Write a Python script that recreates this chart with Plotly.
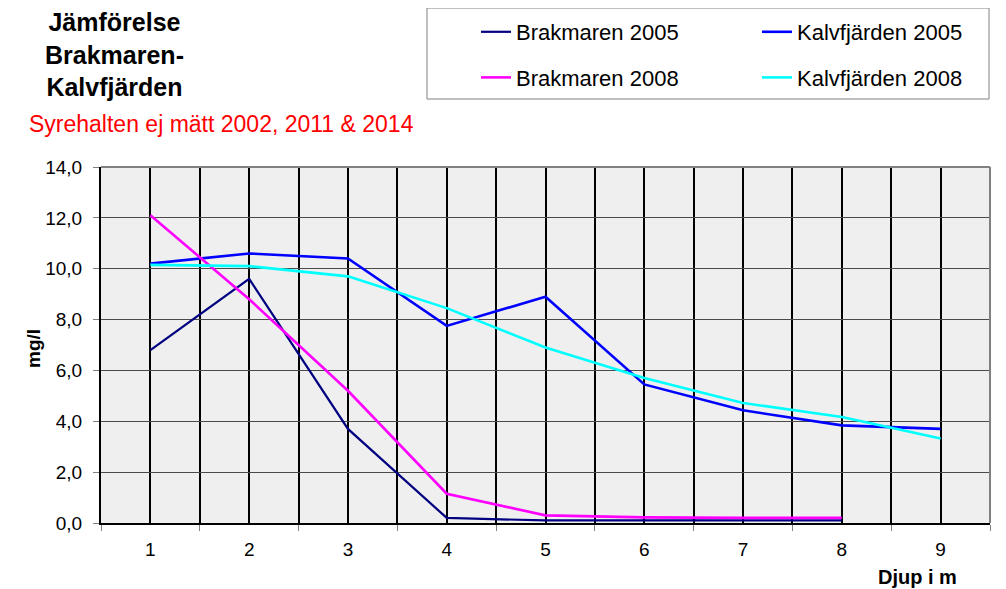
import plotly.graph_objects as go

# ---- data ----
depth = [1, 2, 3, 4, 5, 6, 7, 8, 9]
brakmaren_2005 = [6.8, 9.6, 3.7, 0.2, 0.1, 0.1, 0.1, 0.1]
kalvfjarden_2005 = [10.2, 10.6, 10.4, 7.75, 8.9, 5.45, 4.43, 3.84, 3.7]
brakmaren_2008 = [12.1, 8.8, 5.2, 1.15, 0.3, 0.22, 0.2, 0.2]
kalvfjarden_2008 = [10.15, 10.1, 9.7, 8.45, 6.9, 5.7, 4.72, 4.17, 3.32]
y_ticks = [0, 2, 4, 6, 8, 10, 12, 14]

FONT = "Liberation Sans, Arial, sans-serif"

fig = go.Figure()
series = [
    ("Brakmaren 2005", brakmaren_2005, "#000080", 2.2, "legend"),
    ("Kalvfjärden 2005", kalvfjarden_2005, "#0000FF", 2.6, "legend2"),
    ("Brakmaren 2008", brakmaren_2008, "#FF00FF", 2.6, "legend"),
    ("Kalvfjärden 2008", kalvfjarden_2008, "#00FFFF", 2.6, "legend2"),
]
for name, vals, color, w, lg in series:
    fig.add_trace(go.Scatter(
        x=depth[:len(vals)], y=vals, name=name, mode="lines",
        line=dict(color=color, width=w), legend=lg, legendgroup=name,
    ))

# page body has an 8px margin: figure is placed at (8, 8) in the window
OFF = 8
WIN_W, WIN_H = 1006, 589
W, H = WIN_W - OFF, WIN_H - OFF
PL, PT, PR, PB = 101, 167, 990, 523   # plot area in window pixels
L, T = PL - OFF, PT - OFF
R, B = WIN_W - PR, WIN_H - PB
pw, ph = PR - PL, PB - PT

def px(xp):
    return (xp - PL) / pw

def py(yp):
    return (PB - yp) / ph

legend_common = dict(
    orientation="v", bgcolor="rgba(0,0,0,0)", borderwidth=0,
    font=dict(family=FONT, size=22, color="#000000"),
    tracegroupgap=14, itemwidth=30, xanchor="left", yanchor="top",
    traceorder="grouped",
)

fig.update_layout(
    width=W, height=H,
    margin=dict(l=L, r=R, t=T, b=B, pad=0, autoexpand=False),
    paper_bgcolor="#FFFFFF",
    plot_bgcolor="#EFEFEF",
    separators=", ",
    font=dict(family=FONT, size=19, color="#000000"),
    showlegend=True,
    legend=dict(x=px(476), y=py(11), **legend_common),
    legend2=dict(x=px(757), y=py(11), **legend_common),
    xaxis=dict(
        range=[0.5, 9.5], tickmode="array", tickvals=depth,
        ticktext=[str(d) for d in depth],
        ticks="", showgrid=True, gridcolor="#000000", gridwidth=2,
        showline=True, linecolor="#000000", linewidth=2,
        zeroline=False, ticklabelstandoff=8,
        tickfont=dict(family=FONT, size=19, color="#000000"),
        minor=dict(tick0=0.5, dtick=1, ticks="outside", ticklen=6,
                   tickcolor="#808080", tickwidth=1,
                   showgrid=True, gridcolor="#000000", gridwidth=2),
    ),
    yaxis=dict(
        range=[0, 14], tickmode="array", tickvals=y_ticks,
        tickformat=".1f", ticks="outside", ticklen=6,
        tickcolor="#808080", tickwidth=1,
        showgrid=True, gridcolor="#4A4A4A", gridwidth=1,
        showline=True, linecolor="#000000", linewidth=2,
        zeroline=False, ticklabelstandoff=7,
        tickfont=dict(family=FONT, size=19, color="#000000"),
    ),
)

# frame on top and right (gray)
fig.add_shape(type="line", xref="paper", yref="paper", x0=0, x1=1, y0=1, y1=1,
              line=dict(color="#808080", width=2), layer="above")
fig.add_shape(type="line", xref="paper", yref="paper", x0=1, x1=1, y0=0, y1=1,
              line=dict(color="#808080", width=2), layer="above")
# legend border box
fig.add_shape(type="rect", xref="paper", yref="paper",
              x0=px(427), x1=px(989), y0=py(99), y1=py(8),
              line=dict(color="#808080", width=1), fillcolor="rgba(0,0,0,0)")

fig.add_annotation(
    text="<b>Jämförelse<br>Brakmaren-<br>Kalvfjärden</b>",
    xref="paper", yref="paper", x=px(114), y=py(55),
    xanchor="center", yanchor="middle", showarrow=False, align="center",
    font=dict(family=FONT, size=25, color="#000000"),
)
fig.add_annotation(
    text="Syrehalten ej mätt 2002, 2011 & 2014",
    xref="paper", yref="paper", x=px(27), y=py(124),
    xanchor="left", yanchor="middle", showarrow=False,
    font=dict(family=FONT, size=23, color="#FF0000"),
)
fig.add_annotation(
    text="<b>mg/l</b>", textangle=-90,
    xref="paper", yref="paper", x=px(33), y=py(349),
    xanchor="center", yanchor="middle", showarrow=False,
    font=dict(family=FONT, size=19, color="#000000"),
)
fig.add_annotation(
    text="<b>Djup i m</b>",
    xref="paper", yref="paper", x=px(917), y=py(577),
    xanchor="center", yanchor="middle", showarrow=False,
    font=dict(family=FONT, size=20, color="#000000"),
)

fig.write_html("out.html")
